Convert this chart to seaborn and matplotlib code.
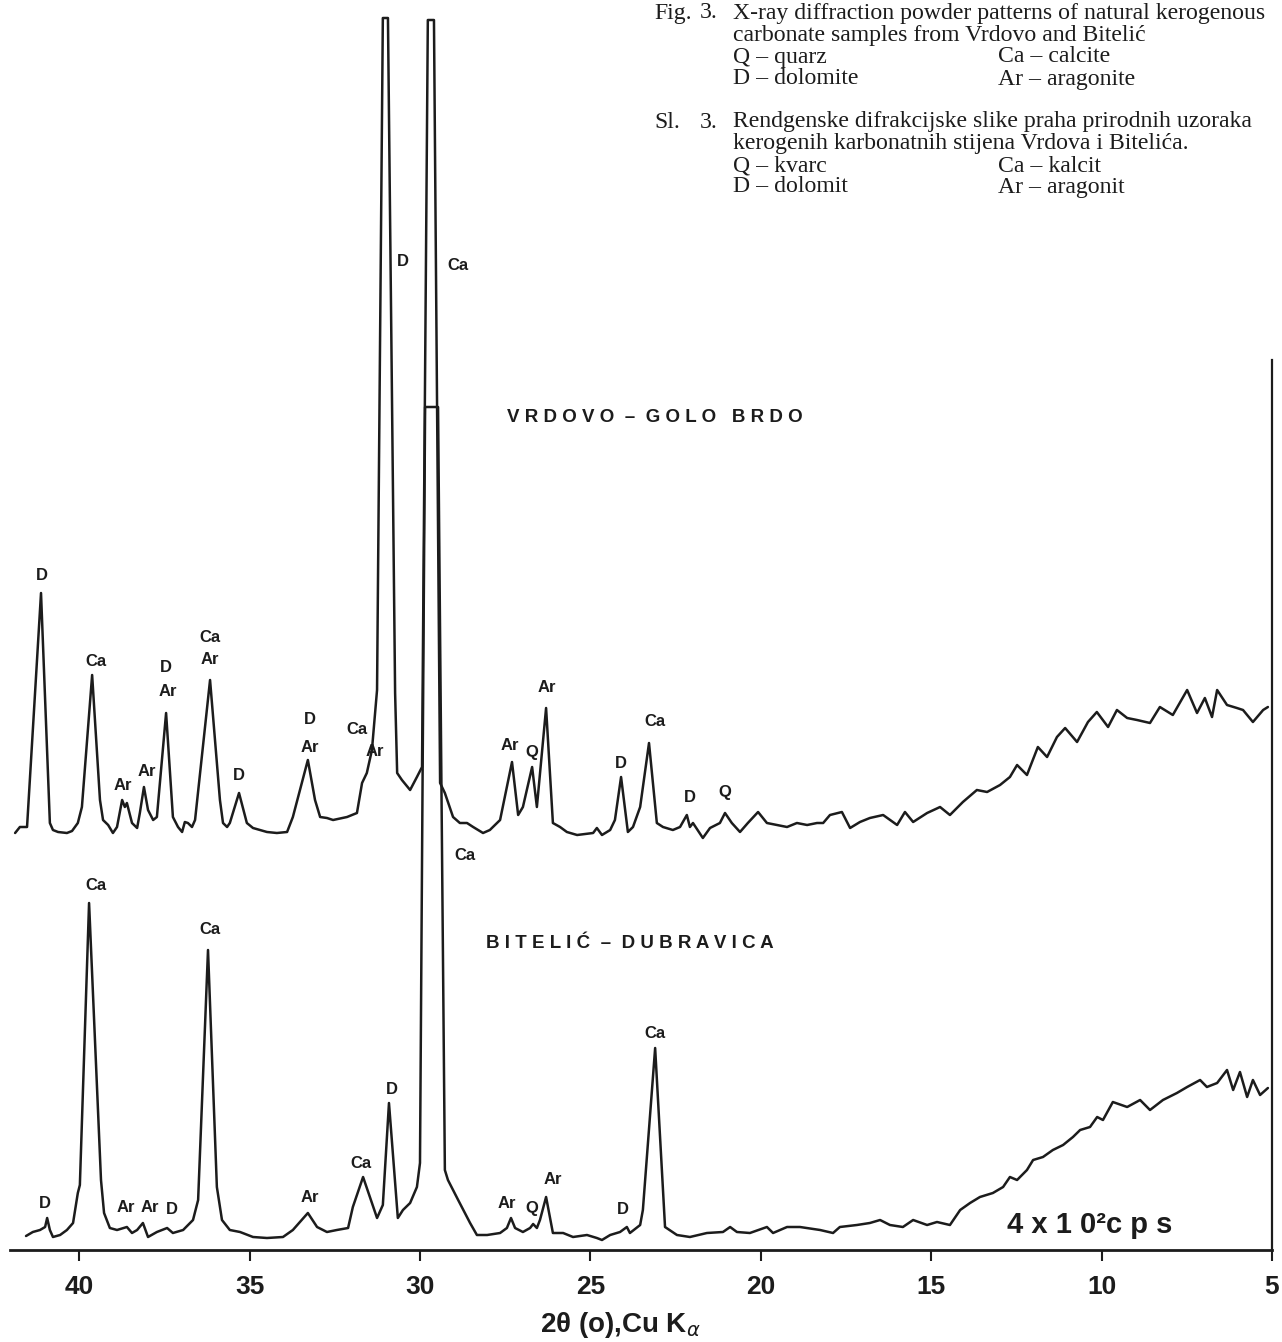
import matplotlib
matplotlib.use("Agg")
import matplotlib.pyplot as plt
import numpy as np
import pandas as pd
import seaborn as sns

# ---------------- data (2-theta in degrees, intensity in arbitrary recorder units) -------------
vrdovo_2theta = [41.88, 41.74, 41.53, 41.12, 40.86, 40.77, 40.62, 40.36, 40.21, 40.04, 39.92, 39.62,
                 39.39, 39.30, 39.15, 39.01, 38.89, 38.74, 38.66, 38.60, 38.45, 38.30, 38.22, 38.10,
                 37.98, 37.83, 37.72, 37.45, 37.25, 37.10, 36.98, 36.90, 36.81, 36.69, 36.60, 36.16,
                 35.87, 35.78, 35.66, 35.58, 35.31, 35.08, 34.90, 34.49, 34.20, 33.90, 33.73, 33.29,
                 33.08, 32.93, 32.73, 32.55, 32.14, 31.85, 31.70, 31.56, 31.41, 31.26, 31.09, 30.94,
                 30.73, 30.67, 30.53, 30.29, 30.09, 29.94, 29.77, 29.59, 29.41, 29.27, 29.03, 28.83,
                 28.62, 28.44, 28.15, 27.95, 27.65, 27.30, 27.12, 26.98, 26.71, 26.57, 26.30, 26.10,
                 25.89, 25.69, 25.39, 24.92, 24.81, 24.66, 24.42, 24.28, 24.10, 23.90, 23.75, 23.54,
                 23.28, 23.05, 22.87, 22.58, 22.37, 22.17, 22.08, 21.99, 21.70, 21.49, 21.20, 21.05,
                 20.85, 20.61, 20.38, 20.08, 19.82, 19.52, 19.23, 18.94, 18.64, 18.35, 18.17, 17.97,
                 17.62, 17.38, 17.09, 16.80, 16.41, 16.00, 15.77, 15.53, 15.12, 14.74, 14.45, 14.07,
                 13.66, 13.36, 12.98, 12.69, 12.48, 12.19, 11.87, 11.60, 11.31, 11.07, 10.72, 10.40,
                 10.14, 9.81, 9.55, 9.25, 8.96, 8.58, 8.29, 7.91, 7.49, 7.20, 6.97, 6.76,
                 6.61, 6.32, 6.03, 5.85, 5.56, 5.26, 5.12]
vrdovo_intensity = [417, 423, 423, 657, 427, 420, 418, 417, 419, 427, 443, 575,
                    450, 430, 425, 417, 423, 450, 443, 447, 427, 422, 437, 463,
                    440, 430, 433, 537, 433, 423, 418, 428, 427, 423, 430, 570,
                    450, 427, 423, 427, 457, 427, 422, 418, 417, 418, 433, 490,
                    450, 433, 432, 430, 433, 437, 467, 477, 500, 560, 1232, 1232,
                    557, 477, 470, 460, 473, 483, 1230, 1230, 467, 457, 433, 427,
                    427, 423, 417, 420, 430, 488, 435, 443, 483, 443, 542, 427,
                    423, 418, 415, 417, 422, 415, 420, 430, 473, 418, 423, 443,
                    507, 427, 423, 420, 423, 435, 423, 427, 412, 422, 427, 437,
                    427, 418, 427, 438, 427, 425, 423, 427, 425, 427, 427, 435,
                    438, 422, 428, 432, 435, 425, 438, 428, 437, 443, 435, 448,
                    460, 458, 465, 473, 485, 475, 503, 493, 513, 522, 508, 528,
                    538, 523, 540, 532, 530, 527, 543, 535, 560, 537, 552, 533,
                    560, 545, 542, 540, 528, 540, 543]

bitelic_2theta = [41.56, 41.36, 41.15, 41.00, 40.94, 40.86, 40.77, 40.56, 40.36, 40.18, 40.04, 39.98,
                  39.71, 39.36, 39.27, 39.10, 38.89, 38.60, 38.45, 38.30, 38.13, 37.98, 37.72, 37.42,
                  37.25, 36.95, 36.66, 36.51, 36.22, 35.96, 35.81, 35.58, 35.28, 34.90, 34.49, 34.02,
                  33.73, 33.29, 33.02, 32.73, 32.44, 32.11, 31.97, 31.67, 31.26, 31.09, 30.91, 30.65,
                  30.50, 30.29, 30.09, 30.00, 29.85, 29.47, 29.27, 29.18, 28.88, 28.53, 28.33, 28.03,
                  27.65, 27.45, 27.33, 27.21, 26.98, 26.77, 26.68, 26.57, 26.48, 26.30, 26.10, 25.80,
                  25.51, 25.10, 24.81, 24.66, 24.42, 24.13, 23.93, 23.84, 23.54, 23.46, 23.10, 22.81,
                  22.46, 22.08, 21.58, 21.11, 20.90, 20.70, 20.32, 19.82, 19.64, 19.23, 18.85, 18.26,
                  17.88, 17.68, 17.18, 16.80, 16.50, 16.21, 15.83, 15.53, 15.12, 14.83, 14.45, 14.15,
                  13.86, 13.57, 13.19, 12.89, 12.69, 12.48, 12.19, 12.01, 11.72, 11.43, 11.13, 10.84,
                  10.63, 10.34, 10.13, 9.96, 9.67, 9.25, 8.87, 8.58, 8.20, 7.79, 7.49, 7.11,
                  6.91, 6.61, 6.32, 6.14, 5.94, 5.73, 5.56, 5.35, 5.12]
bitelic_intensity = [14, 18, 20, 23, 32, 20, 13, 15, 20, 27, 57, 65,
                     347, 70, 37, 22, 20, 23, 17, 20, 27, 13, 18, 22,
                     17, 20, 30, 50, 300, 63, 30, 20, 18, 13, 12, 13,
                     20, 37, 23, 18, 20, 22, 43, 73, 32, 45, 147, 32,
                     40, 47, 63, 87, 843, 843, 80, 70, 50, 27, 15, 15,
                     17, 22, 32, 22, 18, 22, 26, 22, 30, 53, 17, 17,
                     13, 15, 12, 10, 15, 18, 23, 17, 25, 40, 202, 23,
                     15, 13, 17, 18, 23, 18, 17, 23, 17, 23, 23, 20,
                     17, 23, 25, 27, 30, 25, 23, 30, 25, 28, 25, 40,
                     47, 53, 57, 63, 73, 70, 80, 90, 93, 100, 105, 113,
                     120, 123, 133, 130, 148, 143, 150, 140, 150, 157, 163, 170,
                     163, 167, 180, 160, 178, 153, 170, 155, 162]

vrdovo_labels = ["D", "Ca", "Ar", "Ar", "D", "Ar", "Ca", "Ar", "D", "D", "Ar", "Ca", "Ar",
                 "D", "Ca", "Ca", "Ar", "Q", "Ar", "D", "Ca", "D", "Q"]
vrdovo_label_2theta = [41.09, 39.51, 38.71, 38.01, 37.45, 37.39, 36.16, 36.16, 35.31, 33.23, 33.23,
                       31.85, 31.32, 30.50, 28.88, 28.68, 27.36, 26.71, 26.27, 24.10, 23.10, 22.08, 21.05]
vrdovo_label_intensity = [675, 588, 464, 478, 583, 558, 612, 590, 474, 530, 503,
                          521, 498, 988, 985, 395, 504, 498, 562, 486, 528, 453, 458]

bitelic_labels = ["Ca", "Ca", "D", "Ar", "Ar", "D", "Ar", "Ca", "D", "Ar", "Q", "Ar", "D", "Ca"]
bitelic_label_2theta = [39.51, 36.16, 41.00, 38.63, 37.92, 37.28, 33.23, 31.73, 30.82, 27.45, 26.71,
                        26.10, 24.04, 23.10]
bitelic_label_intensity = [364, 320, 47, 43, 43, 41, 52, 87, 161, 47, 41, 70, 41, 217]

sample_names = ["V R D O V O  –  G O L O   B R D O", "B I T E L I Ć  –  D U B R A V I C A"]
sample_name_2theta = [23.10, 23.84]
sample_name_intensity = [832, 307]

tick_values = [40, 35, 30, 25, 20, 15, 10, 5]
tick_labels = ["40", "35", "30", "25", "20", "15", "10", "5"]

caption_en = ["X-ray diffraction powder patterns of natural kerogenous",
              "carbonate samples from Vrdovo and Bitelić"]
legend_en = [("Q – quarz", "Ca – calcite"), ("D – dolomite", "Ar – aragonite")]
caption_hr = ["Rendgenske difrakcijske slike praha prirodnih uzoraka",
              "kerogenih karbonatnih stijena Vrdova i Bitelića."]
legend_hr = [("Q – kvarc", "Ca – kalcit"), ("D – dolomit", "Ar – aragonit")]

# ---------------- styling ----------------
sns.set_theme(style="white")
plt.rcParams["font.family"] = ["Liberation Sans", "DejaVu Sans"]
INK = "#1c1c1c"
W, H = 1282, 1342

fig = plt.figure(figsize=(W / 100, H / 100), dpi=100, facecolor="white")
ax = fig.add_axes([10 / W, 92 / H, 1262 / W, 1250 / H])
ax.set_facecolor("white")

df_v = pd.DataFrame({"two_theta": vrdovo_2theta, "intensity": vrdovo_intensity})
df_b = pd.DataFrame({"two_theta": bitelic_2theta, "intensity": bitelic_intensity})
sns.lineplot(data=df_v, x="two_theta", y="intensity", sort=False, estimator=None,
             color=INK, linewidth=1.8, ax=ax)
sns.lineplot(data=df_b, x="two_theta", y="intensity", sort=False, estimator=None,
             color=INK, linewidth=1.8, ax=ax)

ax.set_xlim(42.03, 5)
ax.set_ylim(0, 1250)
for s in ["left", "top"]:
    ax.spines[s].set_visible(False)
ax.spines["bottom"].set_color(INK)
ax.spines["bottom"].set_linewidth(2)
ax.spines["right"].set_color(INK)
ax.spines["right"].set_linewidth(1.6)
ax.spines["right"].set_bounds(0, 890)
ax.set_yticks([])
ax.set_xticks(tick_values)
ax.set_xticklabels(tick_labels, fontweight="bold", fontsize=19, color=INK)
ax.tick_params(axis="x", direction="out", length=8, width=1.5, color=INK, pad=10, bottom=True)
ax.set_xlabel("")
ax.set_ylabel("")

lab_kw = dict(ha="center", va="center", fontsize=12, fontweight="bold", color=INK)
for t, x, y in zip(vrdovo_labels, vrdovo_label_2theta, vrdovo_label_intensity):
    ax.text(x, y, t, **lab_kw)
for t, x, y in zip(bitelic_labels, bitelic_label_2theta, bitelic_label_intensity):
    ax.text(x, y, t, **lab_kw)
for t, x, y in zip(sample_names, sample_name_2theta, sample_name_intensity):
    ax.text(x, y, t, ha="center", va="center", fontsize=13.5, fontweight="bold", color=INK)

ax.text(10.34, 25, "4 x 1 0²c p s", ha="center", va="center", fontsize=21,
        fontweight="bold", color=INK)

fig.text(620 / W, 1 - 1325 / H, "2θ (o),Cu K$_{\\alpha}$", ha="center", va="center",
         fontsize=20, fontweight="bold", color=INK)

# caption block (serif)
ser = dict(family="Liberation Serif", fontsize=17.1, color=INK, va="center")
def fy(py):
    return 1 - py / H
fig.text(654 / W, fy(13), "Fig.", **ser)
fig.text(700 / W, fy(13), "3.", **ser)
fig.text(733 / W, fy(13), caption_en[0], **ser)
fig.text(733 / W, fy(35), caption_en[1], **ser)
for i, (a, b) in enumerate(legend_en):
    fig.text(733 / W, fy(57 + 22 * i), a, **ser)
    fig.text(998 / W, fy(57 + 22 * i), b, **ser)
fig.text(654 / W, fy(122), "Sl.", **ser)
fig.text(700 / W, fy(122), "3.", **ser)
fig.text(733 / W, fy(122), caption_hr[0], **ser)
fig.text(733 / W, fy(144), caption_hr[1], **ser)
for i, (a, b) in enumerate(legend_hr):
    fig.text(733 / W, fy(166 + 21 * i), a, **ser)
    fig.text(998 / W, fy(166 + 21 * i), b, **ser)

fig.savefig("out.png", dpi=100, facecolor="white")
